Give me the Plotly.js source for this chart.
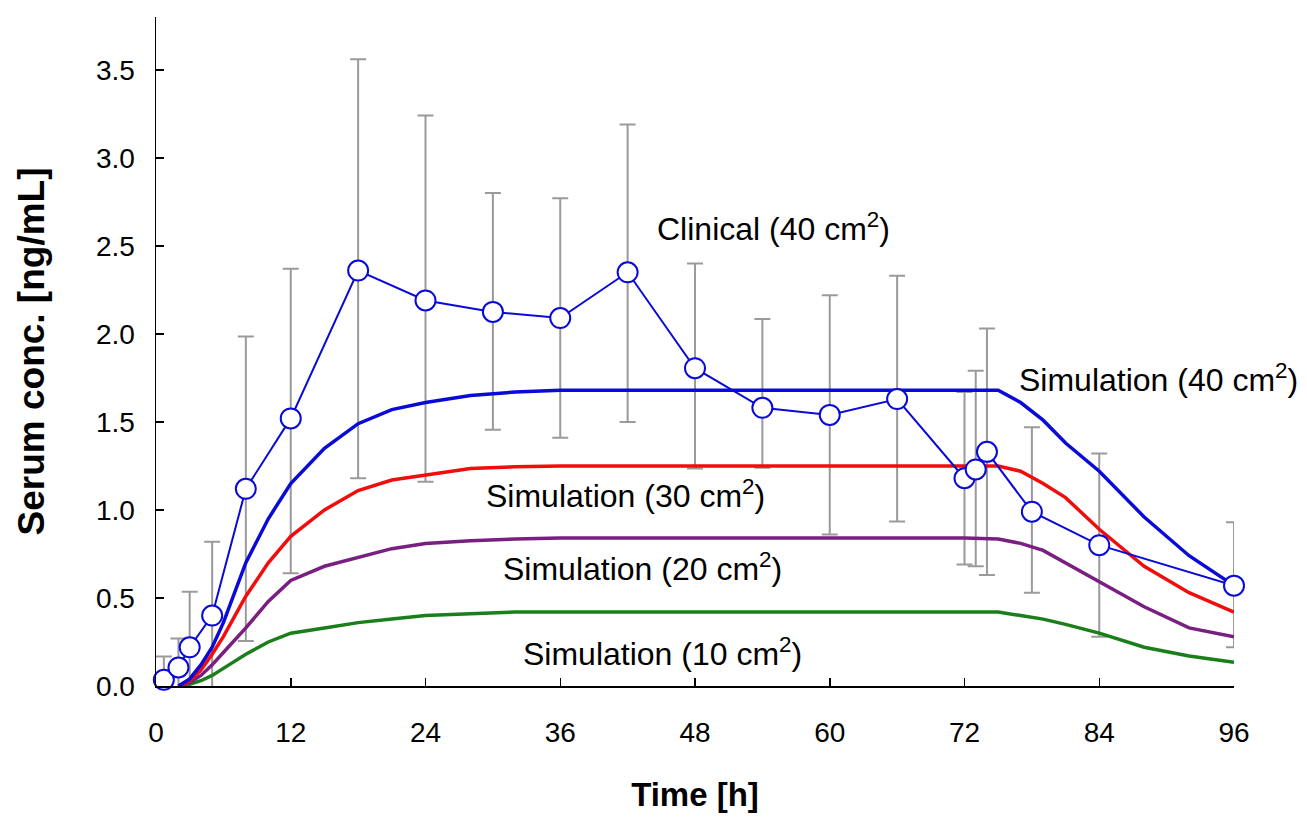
<!DOCTYPE html>
<html>
<head>
<meta charset="utf-8">
<script src="https://cdn.plot.ly/plotly-3.0.1.min.js"></script>
<style>html,body{margin:0;padding:0;background:#fff;}#chart{width:1307px;height:821px;}</style>
</head>
<body>
<div id="chart"></div>
<script>
// Clinical data (40 cm2): time, mean, top and bottom of error bar
const clinT     = [0.7, 2, 3, 5, 8, 12, 18, 24, 30, 36, 42, 48, 54, 60, 66, 72, 73, 74, 78, 84, 96];
const clinMean  = [0.035, 0.105, 0.22, 0.40, 1.12, 1.52, 2.36, 2.19, 2.125, 2.09, 2.35, 1.805, 1.58, 1.54, 1.63, 1.18, 1.23, 1.33, 0.99, 0.80, 0.57];
const clinUpper = [0.167, 0.27, 0.535, 0.82, 1.985, 2.37, 3.56, 3.24, 2.80, 2.77, 3.19, 2.40, 2.085, 2.22, 2.33, 1.67, 1.79, 2.03, 1.47, 1.32, 0.93];
const clinLower = [-0.10, -0.06, -0.095, -0.04, 0.255, 0.64, 1.18, 1.16, 1.455, 1.41, 1.50, 1.235, 1.24, 0.86, 0.935, 0.69, 0.68, 0.63, 0.53, 0.28, 0.22];

// Simulations
const simT  = [2, 3, 4, 5, 6, 8, 10, 12, 15, 18, 21, 24, 28, 32, 36, 48, 60, 72, 75, 77, 79, 81, 84, 88, 92, 96];
const sim40 = [0.00, 0.04, 0.12, 0.22, 0.36, 0.70, 0.95, 1.15, 1.35, 1.49, 1.57, 1.61, 1.65, 1.67, 1.68, 1.68, 1.68, 1.68, 1.68, 1.61, 1.51, 1.38, 1.22, 0.96, 0.74, 0.57];
const sim30 = [0.00, 0.03, 0.09, 0.18, 0.28, 0.51, 0.70, 0.85, 1.00, 1.11, 1.17, 1.20, 1.235, 1.245, 1.25, 1.25, 1.25, 1.25, 1.25, 1.22, 1.15, 1.07, 0.89, 0.68, 0.53, 0.42];
const sim20 = [0.00, 0.02, 0.06, 0.12, 0.19, 0.33, 0.48, 0.60, 0.68, 0.73, 0.78, 0.81, 0.825, 0.835, 0.84, 0.84, 0.84, 0.84, 0.835, 0.81, 0.77, 0.70, 0.59, 0.45, 0.33, 0.28];
const sim10 = [0.00, 0.01, 0.03, 0.06, 0.10, 0.18, 0.25, 0.30, 0.33, 0.36, 0.38, 0.40, 0.41, 0.42, 0.42, 0.42, 0.42, 0.42, 0.42, 0.40, 0.38, 0.35, 0.30, 0.22, 0.17, 0.135];

const xTicks = [0, 12, 24, 36, 48, 60, 72, 84, 96];
const yTicks = [0.0, 0.5, 1.0, 1.5, 2.0, 2.5, 3.0, 3.5];
const yTickText = ['0.0', '0.5', '1.0', '1.5', '2.0', '2.5', '3.0', '3.5'];

const labels = [
  {text: 'Clinical (40 cm<sup>2</sup>)', x: 55, y: 2.61},
  {text: 'Simulation (40 cm<sup>2</sup>)', x: 89.3, y: 1.75},
  {text: 'Simulation (30 cm<sup>2</sup>)', x: 41.8, y: 1.09},
  {text: 'Simulation (20 cm<sup>2</sup>)', x: 43.3, y: 0.676},
  {text: 'Simulation (10 cm<sup>2</sup>)', x: 45.1, y: 0.193}
];

const errPlus = clinUpper.map((u, i) => u - clinMean[i]);
const errMinus = clinLower.map((l, i) => clinMean[i] - l);

const FONT = 'Liberation Sans, Arial, sans-serif';

const traces = [
  {
    x: clinT, y: clinMean, type: 'scatter', mode: 'markers',
    marker: {size: 1, color: 'rgba(0,0,0,0)'},
    error_y: {type: 'data', symmetric: false, array: errPlus, arrayminus: errMinus,
              color: '#9a9a9a', thickness: 2, width: 8},
    hoverinfo: 'skip', showlegend: false
  },
  {x: simT, y: sim10, type: 'scatter', mode: 'lines', line: {color: '#1a7f1a', width: 3.5}, showlegend: false},
  {x: simT, y: sim20, type: 'scatter', mode: 'lines', line: {color: '#7a1f82', width: 3.5}, showlegend: false},
  {x: simT, y: sim30, type: 'scatter', mode: 'lines', line: {color: '#f20d0d', width: 3.5}, showlegend: false},
  {x: simT, y: sim40, type: 'scatter', mode: 'lines', line: {color: '#0a0ad8', width: 3.5}, showlegend: false},
  {
    x: clinT, y: clinMean, type: 'scatter', mode: 'lines+markers',
    line: {color: '#0a0ad8', width: 2},
    marker: {symbol: 'circle', size: 20, color: '#ffffff', line: {color: '#0a0ad8', width: 2}},
    cliponaxis: false, showlegend: false
  }
];

const layout = {
  width: 1307, height: 821,
  paper_bgcolor: '#ffffff', plot_bgcolor: '#ffffff',
  margin: {l: 156, r: 73, t: 17, b: 135},
  font: {family: FONT, color: '#000000', size: 28},
  showlegend: false,
  xaxis: {
    range: [0, 96], tickvals: xTicks, ticktext: xTicks.map(String),
    ticks: 'inside', ticklen: 8, tickwidth: 1.5, tickcolor: '#000',
    showline: true, linecolor: '#000', linewidth: 1.5,
    showgrid: false, zeroline: false,
    tickfont: {family: FONT, size: 28, color: '#000'},
    ticklabelstandoff: 21,
    title: {text: 'Time [h]', font: {family: FONT, size: 33, color: '#000', weight: 'bold'}, standoff: 36}
  },
  yaxis: {
    range: [0, 3.8], tickvals: yTicks, ticktext: yTickText,
    ticks: 'inside', ticklen: 8, tickwidth: 1.5, tickcolor: '#000',
    showline: true, linecolor: '#000', linewidth: 1.5,
    showgrid: false, zeroline: false,
    tickfont: {family: FONT, size: 28, color: '#000'},
    ticklabelstandoff: 14,
    title: {text: 'Serum conc. [ng/mL]', font: {family: FONT, size: 37, color: '#000', weight: 'bold'}, standoff: 40}
  },
  annotations: labels.map(l => ({
    text: l.text, x: l.x, y: l.y, xref: 'x', yref: 'y', showarrow: false,
    font: {family: FONT, size: 32, color: '#000'}, xanchor: 'center', yanchor: 'middle'
  }))
};

Plotly.newPlot('chart', traces, layout, {displayModeBar: false, staticPlot: true});
</script>
</body>
</html>
